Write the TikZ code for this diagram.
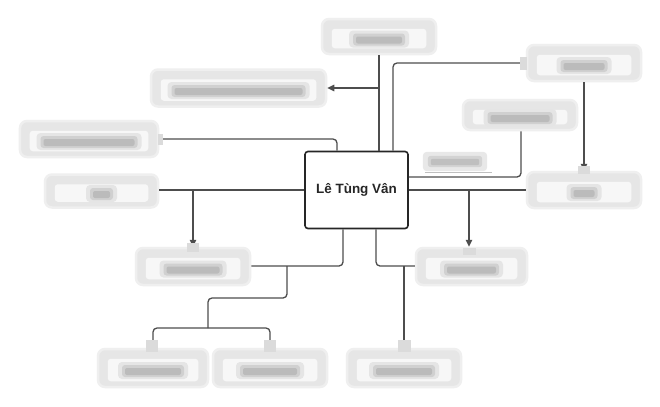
\documentclass[tikz,border=0pt]{standalone}
\usepackage{fontspec}
\setmainfont{Liberation Sans}
\usetikzlibrary{arrows.meta,calc}
\definecolor{lineclr}{HTML}{4D4D4D}
\definecolor{boxclr}{HTML}{E6E6E6}
\definecolor{halo}{HTML}{EFEFEF}
\definecolor{smudge}{HTML}{8A8A8A}
\tikzset{
  blurbox/.style={rectangle, rounded corners=7bp, fill=boxclr, draw=halo, line width=2.5bp, inner sep=0pt},
  conn/.style={draw=lineclr, line width=1.3bp, rounded corners=4bp},
  arr/.style={conn, -{Triangle[length=7bp,width=6.5bp]}},
  tabshape/.style={fill=black!14},
  central/.style={rectangle, rounded corners=3bp, draw=black!85, line width=1.6bp, fill=white,
    minimum width=103bp, minimum height=77bp, font=\bfseries\fontsize{13.5}{16}\selectfont, text=black!85},
}
\begin{document}
\begin{tikzpicture}[x=1bp,y=-1bp]
\useasboundingbox (0,0) rectangle (660,406);
\fill[white] (0,0) rectangle (660,406);
% central node
\node[central] (c) at (356.5,190) {Lê Tùng Vân};

% boxes
\node[blurbox, minimum width=114bp, minimum height=35bp] (top) at (379,36.5) {};
\node[blurbox, minimum width=175bp, minimum height=37bp] (le) at (238.5,88) {};
\node[blurbox, minimum width=138bp, minimum height=36bp] (nh) at (89,139) {};
\node[blurbox, minimum width=113bp, minimum height=33bp] (tl) at (101.5,191) {};
\node[blurbox, minimum width=114bp, minimum height=36bp] (mau) at (584,63) {};
\node[blurbox, minimum width=114bp, minimum height=30bp] (kh) at (520,115) {};
\node[blurbox, minimum width=114bp, minimum height=36bp] (tr) at (584,190) {};
\node[blurbox, minimum width=114bp, minimum height=37bp] (ml) at (193,266.5) {};
\node[blurbox, minimum width=111bp, minimum height=37bp] (mr) at (471.5,266.5) {};
\node[blurbox, minimum width=110bp, minimum height=38bp] (b1) at (153,368) {};
\node[blurbox, minimum width=114bp, minimum height=38bp] (b2) at (270,368) {};
\node[blurbox, minimum width=114bp, minimum height=38bp] (b3) at (404,368) {};

% connectors
\coordinate (jt) at (top.south |- le.east);
\draw[conn] (top.south) -- (top.south |- c.north);
\draw[arr] (jt) -- (le.east);
\coordinate (m1) at (393,63);
\draw[conn] (mau.west) -- (m1) -- (m1 |- c.north);
\draw[arr] (mau.south) -- (tr.north);
\coordinate (k1) at (521,177);
\draw[conn] (kh.south -| k1) -- (k1) -- (k1 -| c.east);
\draw[conn] (tr.west) -- (tr.west -| c.east);
\coordinate (jr) at (469,190);
\draw[arr] (jr) -- (jr |- mr.north);
\coordinate (n1) at (337,139);
\draw[conn] (nh.east) -- (n1) -- (n1 |- c.north);
\draw[conn] (tl.east |- c.west) -- (c.west);
\coordinate (jl) at (193,190);
\draw[arr] (jl) -- (ml.north);
\coordinate (d1) at (343,266);
\draw[conn] (d1 |- c.south) -- (d1) -- (ml.east |- d1);
\coordinate (jb) at (287,266);
\coordinate (jb2) at (208,328);
\draw[conn] (jb) -- (287,298) -- (208,298) -- (jb2);
\draw[conn] (b1.north) -- (b1.north |- jb2) -- (b2.north |- jb2) -- (b2.north);
\coordinate (d2) at (376,266);
\draw[conn] (d2 |- c.south) -- (d2) -- (mr.west |- d2);
\coordinate (jb3) at (404,266);
\draw[conn] (jb3) -- (b3.north);

% box contents (blurred text)
\foreach \n/\w in {top/52, le/134, nh/97, tl/23, mau/47, kh/65, tr/27, ml/59, mr/55, b1/62, b2/60, b3/62}{
  \fill[white!97!black, rounded corners=3bp] ($(\n.north west)+(11,11)$) rectangle ($(\n.south east)+(-11,-7)$);
  \fill[smudge!22, rounded corners=4bp] ($(\n.center)+(-\w/2-4,-6)$) rectangle ($(\n.center)+(\w/2+4,11)$);
  \fill[smudge!40, rounded corners=3bp] ($(\n.center)+(-\w/2,-3)$) rectangle ($(\n.center)+(\w/2,9)$);
  \fill[smudge!58, rounded corners=2bp] ($(\n.center)+(-\w/2+3,0)$) rectangle ($(\n.center)+(\w/2-3,7)$);
}

% small tabs where connectors meet boxes
\fill[tabshape] (187,243) rectangle (199,252);
\fill[tabshape] (146,340) rectangle (158,352);
\fill[tabshape] (264,340) rectangle (276,352);
\fill[tabshape] (398,340) rectangle (411,352);
\fill[tabshape] (463,248) rectangle (476,255);
\fill[tabshape] (578,166) rectangle (590,174);
\fill[tabshape] (520,57) rectangle (527,70);
\fill[tabshape] (158,134) rectangle (163,145);

% connector label (blurred)
\node[inner sep=0pt, minimum width=60bp, minimum height=17bp] (lbl) at (455,161.5) {};
\fill[smudge!20, rounded corners=4bp] ($(lbl.north west)+(-2,-1)$) rectangle ($(lbl.south east)+(2,1)$);
\fill[smudge!38, rounded corners=3bp] ($(lbl.north west)+(3,3)$) rectangle ($(lbl.south east)+(-3,-3)$);
\fill[smudge!55, rounded corners=2bp] ($(lbl.north west)+(6,6)$) rectangle ($(lbl.south east)+(-6,-5)$);
\draw[black!25, line width=0.8bp] (lbl.south west |- 0,172) -- (492,172);
\end{tikzpicture}
\end{document}
